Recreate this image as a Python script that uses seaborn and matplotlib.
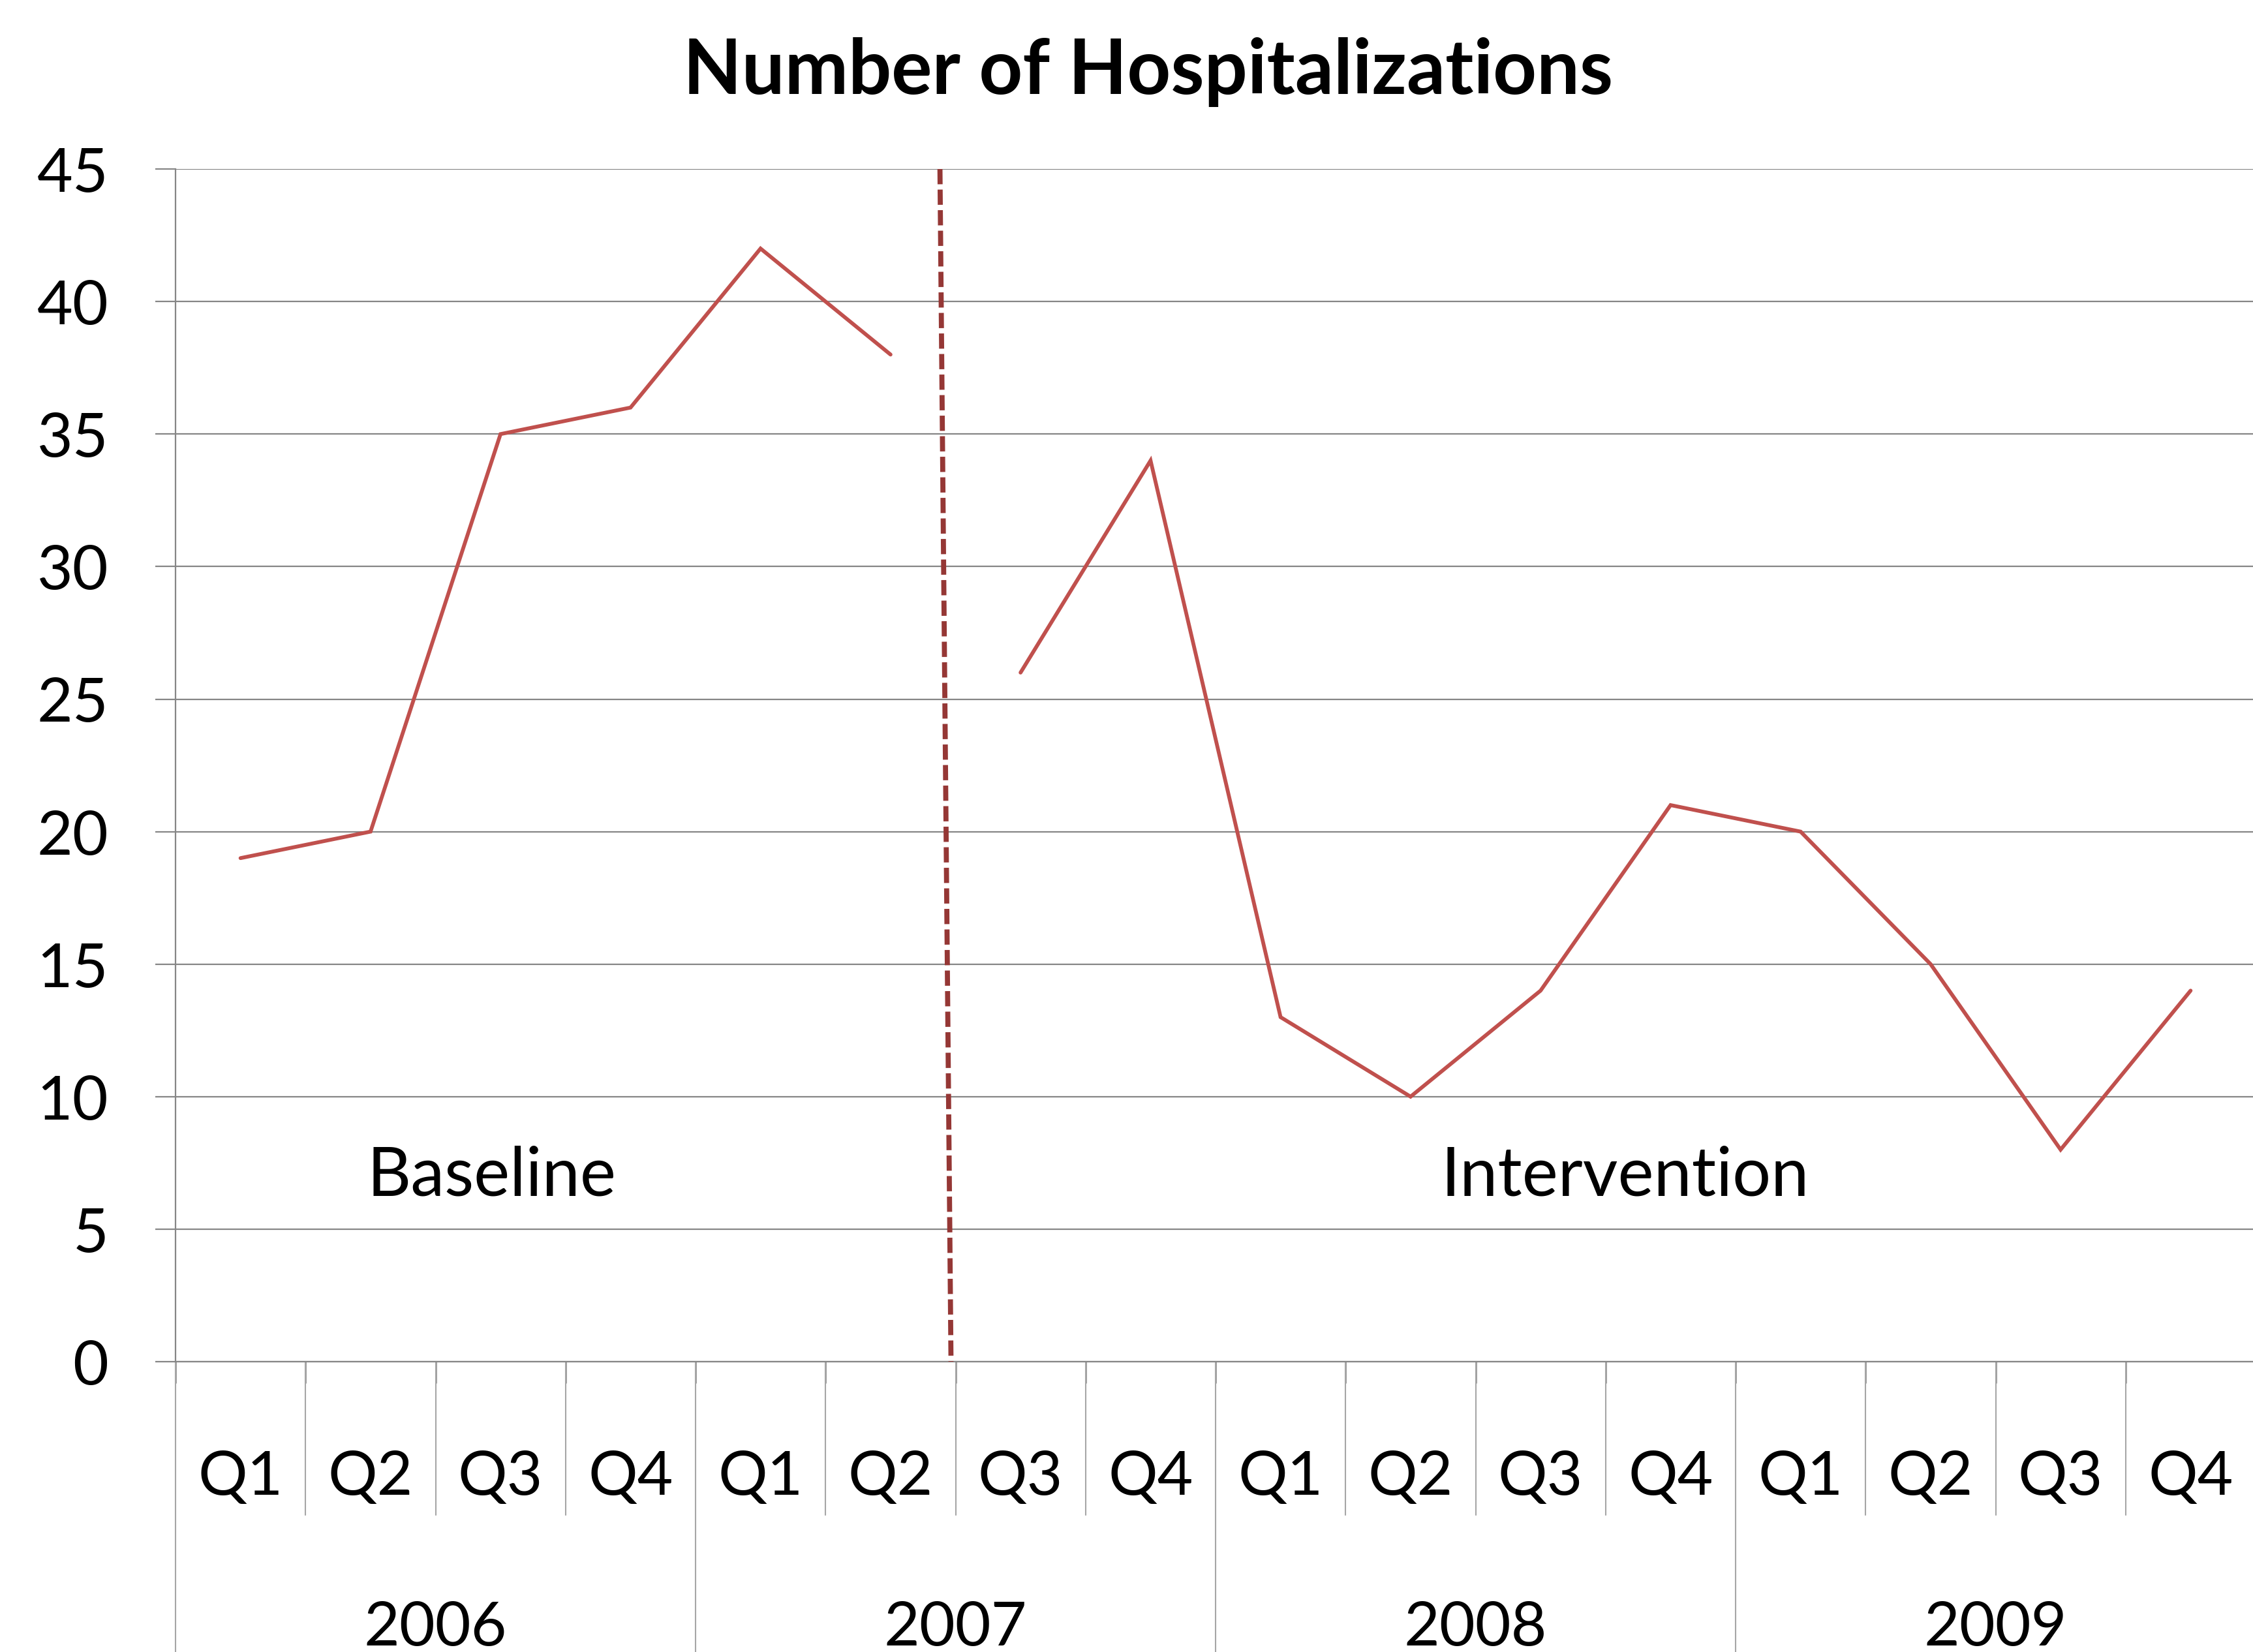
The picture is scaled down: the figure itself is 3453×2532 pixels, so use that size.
import matplotlib
matplotlib.use("Agg")
import matplotlib.pyplot as plt
import matplotlib.transforms as mtransforms
import seaborn as sns
import pandas as pd

# ---- data ----
quarters = ["Q1", "Q2", "Q3", "Q4"] * 4
years = ["2006", "2007", "2008", "2009"]
baseline_values = [19, 20, 35, 36, 42, 38]
intervention_values = [26, 34, 13, 10, 14, 21, 20, 15, 8, 14]
divider_x = [5.38, 5.465]
divider_y = [45, 0]
y_ticks = [0, 5, 10, 15, 20, 25, 30, 35, 40, 45]

values = baseline_values + intervention_values
phase = ["Baseline"] * len(baseline_values) + ["Intervention"] * len(intervention_values)
df = pd.DataFrame({"idx": list(range(len(values))), "value": values, "phase": phase})

sns.set_theme(style="white")
plt.rcParams["font.family"] = ["Lato", "DejaVu Sans"]
plt.rcParams["text.color"] = "black"
plt.rcParams["ytick.labelcolor"] = "black"

LINE = "#C0504D"
DIV = "#953735"
GRID = "#868686"

fig = plt.figure(figsize=(3453 / 200, 2532.9 / 200), dpi=200)
ax = fig.add_axes([269 / 3453, 445 / 2533, (3457 - 269) / 3453, 1828 / 2533])

sns.lineplot(data=df, x="idx", y="value", hue="phase",
             palette={"Baseline": LINE, "Intervention": LINE},
             legend=False, ax=ax, linewidth=2.1, solid_capstyle="round",
             solid_joinstyle="miter")

ax.plot(divider_x, divider_y, color=DIV, linewidth=2.8, linestyle=(0, (3.0, 1.05)),
        dash_capstyle="butt", clip_on=False, zorder=5)

n = len(quarters)
ax.set_xlim(-0.5, n - 0.5)
ax.set_ylim(0, 45)
ax.set_yticks(y_ticks)
ax.set_yticklabels([str(v) for v in y_ticks], fontsize=34, color="black")
ax.yaxis.grid(True, color=GRID, linewidth=0.8)
ax.set_axisbelow(True)
ax.tick_params(axis="y", length=11, width=0.8, color=GRID, pad=26, left=True, labelcolor="black")

ax.set_xticks(range(n))
ax.set_xticklabels([])
ax.tick_params(axis="x", which="major", length=0)
bounds = [i - 0.5 for i in range(n)]
ax.set_xticks(bounds, minor=True)
ax.tick_params(axis="x", which="minor", length=12, width=0.9, color="#7F7F7F", bottom=True)

for s in ["top", "right"]:
    ax.spines[s].set_visible(False)
for s in ["left", "bottom"]:
    ax.spines[s].set_color(GRID)
    ax.spines[s].set_linewidth(0.8)

ax.set_xlabel("")
ax.set_ylabel("")

trans = mtransforms.blended_transform_factory(ax.transData, ax.transAxes)
for i, q in enumerate(quarters):
    ax.text(i, -0.111, q, transform=trans, ha="center", va="baseline", fontsize=34, color="black")
for b in bounds:
    end = -0.2434 if int(b + 0.5) % 4 == 0 else -0.1286
    ax.plot([b, b], [0, end], transform=trans, color="#A6A6A6", linewidth=0.75, clip_on=False)
for k, yr in enumerate(years):
    ax.text(4 * k + 1.5, -0.2375, yr, transform=trans, ha="center", va="baseline", fontsize=34, color="black")

ax.text(1.93, 6.3, "Baseline", ha="center", va="baseline", fontsize=37.5, color="black")
ax.text(10.65, 6.3, "Intervention", ha="center", va="baseline", fontsize=37.5, color="black")

fig.text(0.5097, 0.9432, "Number of Hospitalizations", ha="center", va="baseline",
         fontsize=42, fontweight="bold", color="black")

fig.savefig("out.png", dpi=200, facecolor="white")
